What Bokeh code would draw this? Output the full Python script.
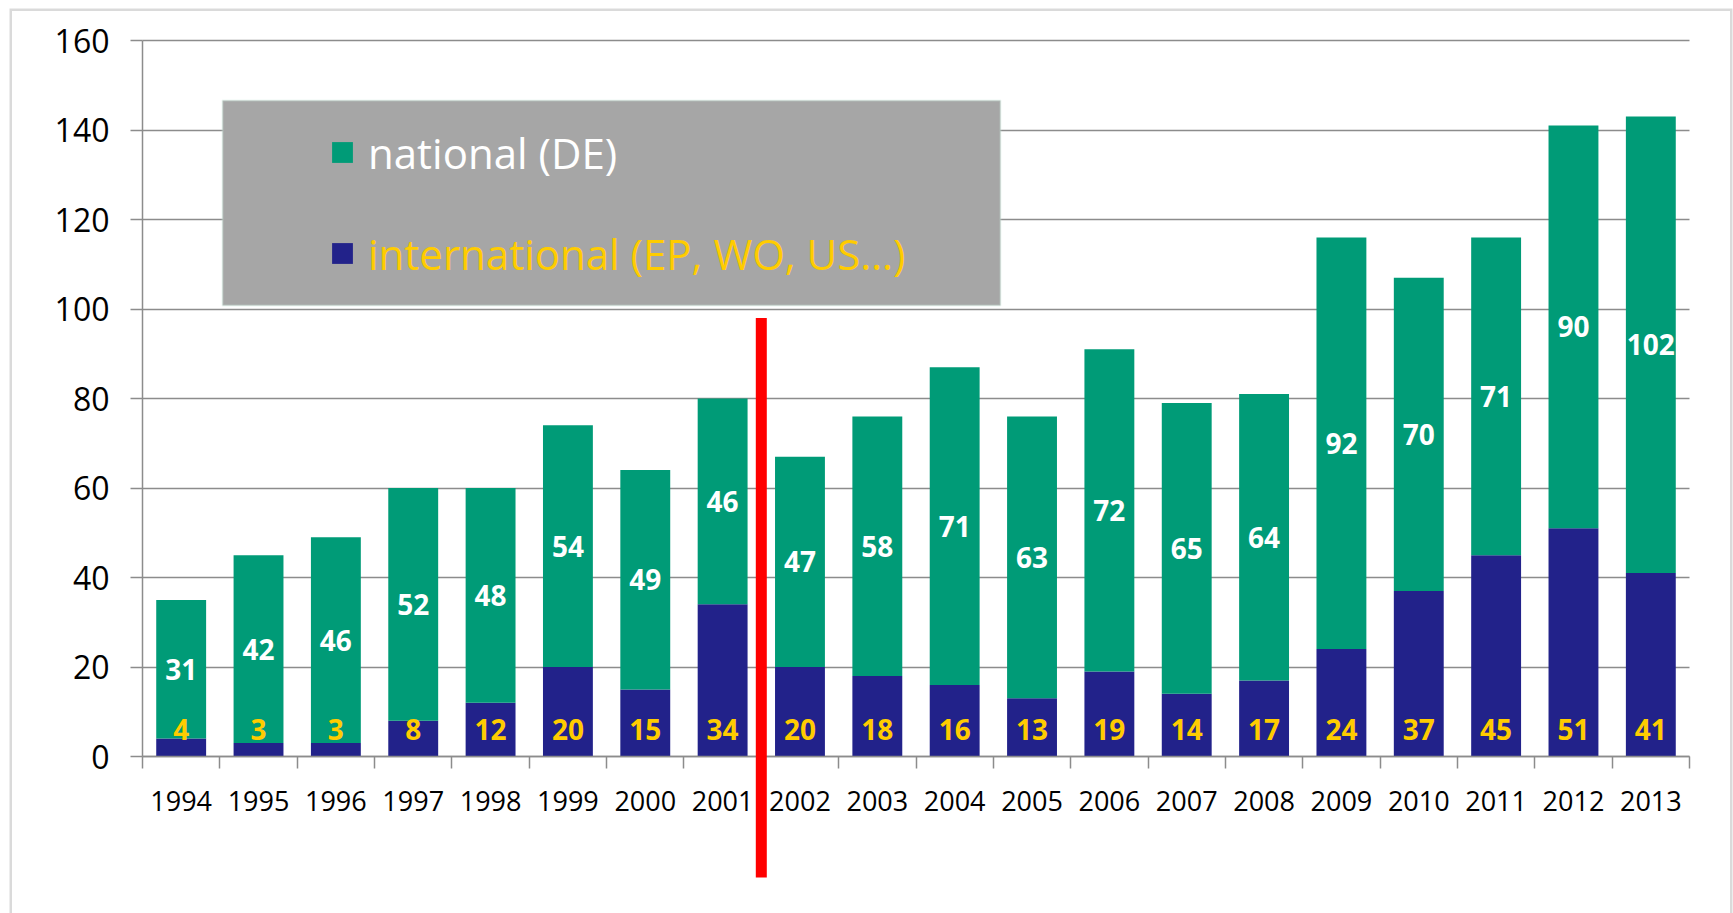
from bokeh.plotting import figure
from bokeh.models import (ColumnDataSource, Range1d, FixedTicker, LabelSet,
                          Legend, LegendItem, BoxAnnotation)
from bokeh.core.properties import value
from bokeh.embed import file_html
from bokeh.resources import INLINE

# ---- data ----
years = [1994, 1995, 1996, 1997, 1998, 1999, 2000, 2001, 2002, 2003,
         2004, 2005, 2006, 2007, 2008, 2009, 2010, 2011, 2012, 2013]
international = [4, 3, 3, 8, 12, 20, 15, 34, 20, 18, 16, 13, 19, 14, 17, 24, 37, 45, 51, 41]
national = [31, 42, 46, 52, 48, 54, 49, 46, 47, 58, 71, 63, 72, 65, 64, 92, 70, 71, 90, 102]
series_names = ["national (DE)", "international (EP, WO, US\u2026)"]
y_ticks = [0, 20, 40, 60, 80, 100, 120, 140, 160]
divider_after_year = 2001
divider_top = 98

GREEN = "#009B77"
NAVY = "#22228A"
YELLOW = "#FFCC00"
GRAY = "#8C8C8C"

# ---- layout (pixels) ----
W, H = 1733, 913
FRAME_L, FRAME_T, FRAME_R, FRAME_B = 9, 8, W - 1, H      # outer chart box
PLOT_L, PLOT_R, PLOT_T, PLOT_B = 142, 1689, 40, 756        # axes area

x_lo, x_hi = years[0] - 0.5, years[-1] + 0.5
y_lo, y_hi = y_ticks[0], y_ticks[-1]
pxx = (PLOT_R - PLOT_L) / (x_hi - x_lo)
pxy = (PLOT_B - PLOT_T) / (y_hi - y_lo)
x_start = x_lo - (PLOT_L - FRAME_L) / pxx
x_end = x_hi + (FRAME_R - PLOT_R) / pxx
y_start = y_lo - (FRAME_B - PLOT_B) / pxy
y_end = y_hi + (PLOT_T - FRAME_T) / pxy
divider_bottom = y_lo - (877 - PLOT_B) / pxy
divider_half = 5.5 / pxx

src = ColumnDataSource(dict(
    x=years,
    international=international,
    national=national,
    nat_mid=[i + n / 2 for i, n in zip(international, national)],
    nat_txt=[str(n) for n in national],
    int_txt=[str(i) for i in international],
    base=[0] * len(years),
))

p = figure(width=W, height=H, title=None,
           x_range=Range1d(x_start, x_end), y_range=Range1d(y_start, y_end),
           output_backend="svg", toolbar_location=None,
           min_border_left=FRAME_L, min_border_right=W - FRAME_R,
           min_border_top=FRAME_T, min_border_bottom=H - FRAME_B)
p.outline_line_color = None
p.background_fill_color = "white"
p.border_fill_color = "white"

# grid lines (behind bars)
p.xgrid.visible = False
g = p.ygrid[0]
g.ticker = FixedTicker(ticks=y_ticks)
g.grid_line_color = GRAY
g.grid_line_width = 1.5
use_tick_grid = "cross_bounds" not in g.properties()
if use_tick_grid:
    g.visible = False
else:
    g.cross_bounds = (x_lo, x_hi)

bars = p.vbar_stack(["international", "national"], x="x", width=0.645,
                    color=[NAVY, GREEN], line_color=None, source=src)

# y axis
ya = p.yaxis[0]
ya.fixed_location = x_lo
ya.bounds = (y_lo, y_hi)
ya.ticker = FixedTicker(ticks=y_ticks)
ya.axis_line_color = GRAY
ya.axis_line_width = 1.5
ya.major_tick_line_color = GRAY
ya.major_tick_line_width = 1.5
ya.major_tick_out = 12
ya.major_tick_in = int(round(PLOT_R - PLOT_L)) if use_tick_grid else 0
if use_tick_grid:
    ya.level = "underlay"
ya.minor_tick_line_color = None
ya.major_label_standoff = 21
ya.major_label_text_font = "Open Sans"
ya.major_label_text_font_size = "32px"
ya.major_label_text_color = "black"

# x axis
xa = p.xaxis[0]
xa.fixed_location = y_lo
xa.bounds = (x_lo, x_hi)
xa.ticker = FixedTicker(ticks=years,
                        minor_ticks=[y - 0.5 for y in years] + [x_hi])
xa.axis_line_color = GRAY
xa.axis_line_width = 1.5
xa.major_tick_line_color = None
xa.major_tick_out = 0
xa.major_tick_in = 0
xa.minor_tick_line_color = GRAY
xa.minor_tick_line_width = 1.5
xa.minor_tick_out = 12
xa.minor_tick_in = 0
xa.major_label_standoff = 22
xa.major_label_text_font = "Open Sans"
xa.major_label_text_font_size = "27px"
xa.major_label_text_color = "black"

# data labels
p.add_layout(LabelSet(x="x", y="nat_mid", text="nat_txt", source=src,
                      text_align="center", text_baseline="middle",
                      text_color="white", text_font=value("Open Sans"),
                      text_font_style="bold", text_font_size="28px"))
p.add_layout(LabelSet(x="x", y="base", text="int_txt", source=src, y_offset=27,
                      text_align="center", text_baseline="middle",
                      text_color=YELLOW, text_font=value("Open Sans"),
                      text_font_style="bold", text_font_size="28px"))

# red divider
p.add_layout(BoxAnnotation(left=divider_after_year + 0.5 - divider_half,
                           right=divider_after_year + 0.5 + divider_half,
                           top=divider_top, bottom=divider_bottom,
                           fill_color="#FF0000", fill_alpha=1.0, line_color=None))

# legend background box
p.add_layout(BoxAnnotation(left=222, right=1000, top=100, bottom=305,
                           left_units="canvas", right_units="canvas",
                           top_units="canvas", bottom_units="canvas",
                           fill_color="#A6A6A6", fill_alpha=1.0,
                           line_color="#C8EBDA", line_width=2))

leg_x = 329 - FRAME_L
leg1 = Legend(items=[LegendItem(label=series_names[0], renderers=[bars[1]])],
              location=(leg_x, (FRAME_B - 152) - 28.5), padding=0, margin=0, spacing=0,
              glyph_width=26, glyph_height=26, label_standoff=13,
              background_fill_alpha=0, border_line_color=None,
              label_text_font="Open Sans", label_text_font_size="42px",
              label_text_color="white")
leg2 = Legend(items=[LegendItem(label=series_names[1], renderers=[bars[0]])],
              location=(leg_x, (FRAME_B - 253) - 28.5), padding=0, margin=0, spacing=0,
              glyph_width=26, glyph_height=26, label_standoff=13,
              background_fill_alpha=0, border_line_color=None,
              label_text_font="Open Sans", label_text_font_size="42px",
              label_text_color=YELLOW)
p.add_layout(leg1)
p.add_layout(leg2)

# outer chart border (bottom edge lies below the page)
p.add_layout(BoxAnnotation(left=x_start, right=x_end, top=y_end, bottom=y_start - 20,
                           fill_color=None, line_color="#858585", line_width=5))

open("out.html", "w").write(file_html(p, INLINE))
